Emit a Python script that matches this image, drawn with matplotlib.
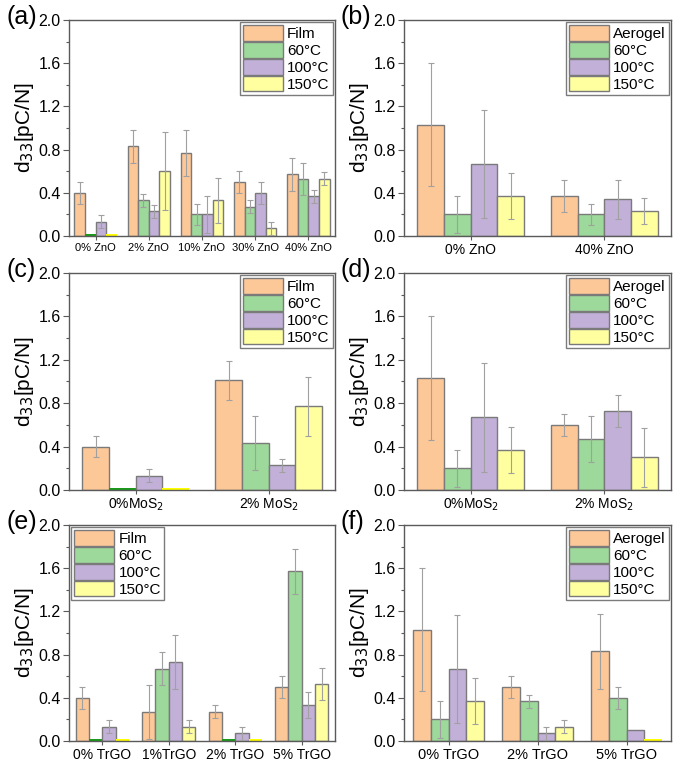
import matplotlib
matplotlib.use("Agg")
import matplotlib.pyplot as plt
import numpy as np
from matplotlib.ticker import MultipleLocator
from matplotlib.patches import Patch

plt.rcParams['font.family'] = ['Liberation Sans', 'DejaVu Sans']

series_film = ["Film", "60°C", "100°C", "150°C"]
series_aero = ["Aerogel", "60°C", "100°C", "150°C"]

# (a)
cats_a = ["0% ZnO", "2% ZnO", "10% ZnO", "30% ZnO", "40% ZnO"]
vals_a = [[0.40, 0.83, 0.77, 0.50, 0.57],
          [0.00, 0.33, 0.20, 0.27, 0.53],
          [0.13, 0.23, 0.20, 0.40, 0.37],
          [0.00, 0.60, 0.33, 0.07, 0.53]]
errs_a = [[0.10, 0.15, 0.21, 0.10, 0.15],
          [0.00, 0.06, 0.10, 0.06, 0.15],
          [0.06, 0.06, 0.17, 0.10, 0.06],
          [0.00, 0.36, 0.21, 0.06, 0.06]]
# (b)
cats_b = ["0% ZnO", "40% ZnO"]
vals_b = [[1.03, 0.37], [0.20, 0.20], [0.67, 0.34], [0.37, 0.23]]
errs_b = [[0.57, 0.15], [0.17, 0.10], [0.50, 0.18], [0.21, 0.12]]
# (c)
cats_c = ["0%MoS$_2$", "2% MoS$_2$"]
vals_c = [[0.40, 1.01], [0.00, 0.43], [0.13, 0.23], [0.00, 0.77]]
errs_c = [[0.10, 0.18], [0.00, 0.25], [0.06, 0.06], [0.00, 0.27]]
# (d)
cats_d = ["0%MoS$_2$", "2% MoS$_2$"]
vals_d = [[1.03, 0.60], [0.20, 0.47], [0.67, 0.73], [0.37, 0.30]]
errs_d = [[0.57, 0.10], [0.17, 0.21], [0.50, 0.15], [0.21, 0.27]]
# (e)
cats_e = ["0% TrGO", "1%TrGO", "2% TrGO", "5% TrGO"]
vals_e = [[0.40, 0.27, 0.27, 0.50],
          [0.00, 0.67, 0.00, 1.57],
          [0.13, 0.73, 0.07, 0.33],
          [0.00, 0.13, 0.00, 0.53]]
errs_e = [[0.10, 0.25, 0.06, 0.10],
          [0.00, 0.15, 0.00, 0.21],
          [0.06, 0.25, 0.06, 0.12],
          [0.00, 0.06, 0.00, 0.15]]
# (f)
cats_f = ["0% TrGO", "2% TrGO", "5% TrGO"]
vals_f = [[1.03, 0.50, 0.83], [0.20, 0.37, 0.40], [0.67, 0.07, 0.10], [0.37, 0.13, 0.00]]
errs_f = [[0.57, 0.10, 0.35], [0.17, 0.06, 0.10], [0.50, 0.06, 0.00], [0.21, 0.06, 0.00]]

face_colors = ["#FDC898", "#9CD99A", "#C2B0D9", "#FFFFA0"]
zero_colors = ["#F08030", "#1A9A1A", "#8060B0", "#FFFF00"]
edge_color = "#7a7a7a"
frame_color = "#5a5a5a"

W, H = 682, 769
fig = plt.figure(figsize=(W / 100, H / 100), dpi=100)

cols = [(69, 335), (404, 671)]
rows = [(20, 236), (273, 490), (525, 741)]

panels = [
    ("(a)", cats_a, vals_a, errs_a, series_film, "upper right", 8, 0, 0),
    ("(b)", cats_b, vals_b, errs_b, series_aero, "upper right", 10, 0, 1),
    ("(c)", cats_c, vals_c, errs_c, series_film, "upper right", 10, 1, 0),
    ("(d)", cats_d, vals_d, errs_d, series_aero, "upper right", 10, 1, 1),
    ("(e)", cats_e, vals_e, errs_e, series_film, "upper left", 10, 2, 0),
    ("(f)", cats_f, vals_f, errs_f, series_aero, "upper right", 10.5, 2, 1),
]

bw = 0.2
for label, cats, vals, errs, names, loc, xfs, r, c in panels:
    x0, x1 = cols[c]
    y0, y1 = rows[r]
    ax = fig.add_axes([x0 / W, 1 - y1 / H, (x1 - x0) / W, (y1 - y0) / H])
    x = np.arange(len(cats))
    for i in range(4):
        xs = x + (i - 1.5) * bw
        v = np.array(vals[i])
        e = np.array(errs[i])
        nz = v > 0
        ax.bar(xs[nz], v[nz], width=bw, color=face_colors[i], edgecolor=edge_color,
               linewidth=1.0, zorder=2)
        if (~nz).any():
            ax.bar(xs[~nz], np.full((~nz).sum(), 0.018), width=bw, color=zero_colors[i],
                   edgecolor='none', linewidth=0, zorder=2)
        en = nz & (e > 0)
        ax.errorbar(xs[en], v[en], yerr=e[en], fmt='none', ecolor="#a0a0a0",
                    elinewidth=0.8, capsize=2.5, capthick=0.8, zorder=3)
    ax.set_xlim(-0.5, len(cats) - 0.5)
    ax.set_ylim(0, 2.0)
    ax.yaxis.set_major_locator(MultipleLocator(0.4))
    ax.yaxis.set_minor_locator(MultipleLocator(0.2))
    ax.yaxis.set_major_formatter(matplotlib.ticker.FormatStrFormatter('%.1f'))
    ax.set_xticks(x)
    ax.set_xticklabels(cats, fontsize=xfs)
    ax.tick_params(axis='y', which='major', direction='out', length=4, width=0.8,
                   color=frame_color, labelsize=11.5, pad=2)
    ax.tick_params(axis='y', which='minor', direction='out', length=2, width=0.8,
                   color=frame_color)
    ax.tick_params(axis='x', which='major', direction='out', length=3, width=0.8,
                   color=frame_color, pad=2)
    for sp in ax.spines.values():
        sp.set_color(frame_color)
        sp.set_linewidth(1.0)
    ax.set_ylabel("d$_{33}$[pC/N]", fontsize=15, labelpad=2)
    handles = [Patch(facecolor=face_colors[i], edgecolor=edge_color, linewidth=1.0)
               for i in range(4)]
    leg = ax.legend(handles, names, loc=loc, fontsize=11, frameon=True, fancybox=False,
                    edgecolor=frame_color, handlelength=2.6, handleheight=1.2,
                    handletextpad=0.3, labelspacing=0.05, borderpad=0.2,
                    borderaxespad=0.15)
    leg.get_frame().set_linewidth(1.0)
    fig.text((x0 - 63) / W, 1 - (y0 - 3) / H, label, fontsize=18, va='center', ha='left')

fig.savefig("out.png", dpi=100)
